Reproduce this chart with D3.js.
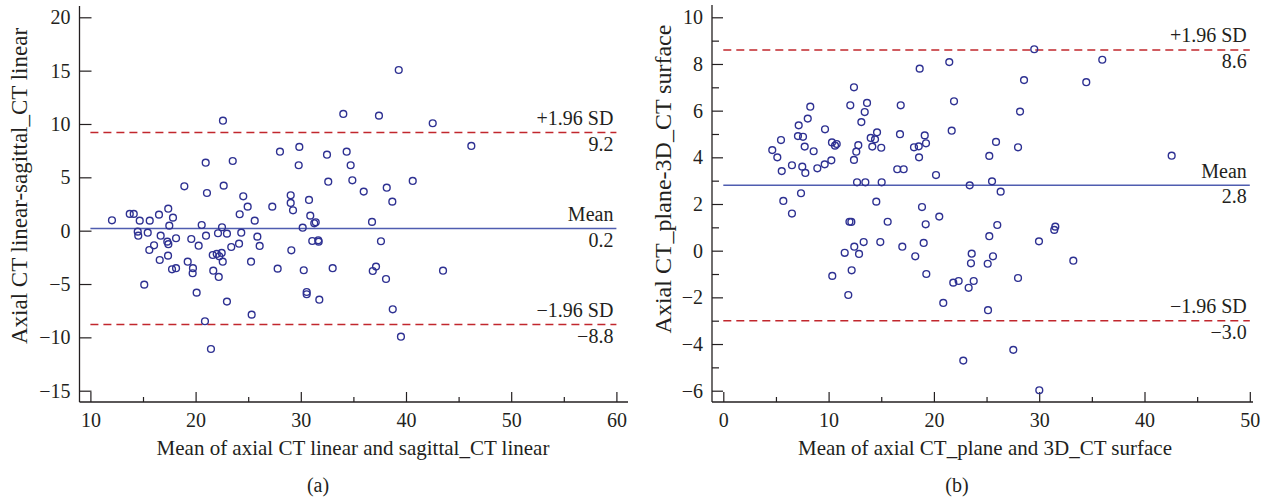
<!DOCTYPE html>
<html>
<head>
<meta charset="utf-8">
<script src="https://cdn.jsdelivr.net/npm/d3@7"></script>
<style>
  html, body { margin: 0; padding: 0; background: #fff; }
  svg { display: block; }
  text { font-family: "Liberation Serif", "Times New Roman", serif; fill: #231f20; }
</style>
</head>
<body>
<svg id="chart" width="1266" height="500"></svg>
<script>
// ---------- Panel (a) data ----------
const aX = [18.93,22.67,21.08,24.53,29.04,29.04,30.78,29.26,27.29,24.95,
  17.40,13.74,14.12,16.52,17.85,12.05,14.69,15.64,17.50,20.58,
  24.19,25.62,30.90,31.28,31.42,30.18,22.51,14.50,14.55,15.45,
  16.68,17.31,17.41,18.14,19.59,20.29,20.99,22.13,22.98,24.34,
  25.87,26.09,24.13,23.39,31.09,31.66,31.70,29.10,16.05,15.60,
  17.38,16.59,19.25,19.75,19.72,17.76,18.14,21.63,22.01,22.25,
  22.48,22.58,21.68,22.20,25.27,27.80,30.28,33.03,15.12,20.10,
  22.98,30.56,30.56,31.76,25.33,20.89,21.46,32.61,34.90,22.60,
  34.04,28.02,29.86,29.80,32.49,34.36,34.74,20.96,23.53,39.31,
  37.43,42.54,46.21,35.98,38.17,40.64,38.70,36.77,37.62,36.84,
  37.15,38.10,43.52,38.74,39.52];
const aY = [4.16,4.22,3.53,3.22,3.32,2.60,2.88,1.91,2.25,2.25,
  2.06,1.57,1.57,1.50,1.22,0.97,0.94,0.94,0.47,0.53,
  1.54,0.94,1.41,0.69,0.79,0.28,0.32,-0.09,-0.47,-0.19,
  -0.47,-1.03,-1.27,-0.71,-0.78,-1.41,-0.47,-0.24,-0.28,-0.19,
  -0.56,-1.43,-1.22,-1.53,-0.97,-0.90,-1.03,-1.84,-1.37,-1.81,
  -2.34,-2.75,-2.91,-3.52,-3.99,-3.62,-3.52,-2.28,-2.18,-2.40,
  -2.09,-2.91,-3.75,-4.34,-2.91,-3.56,-3.71,-3.52,-5.06,-5.81,
  -6.65,-5.75,-5.96,-6.47,-7.87,-8.49,-11.09,4.59,4.72,10.31,
  10.94,7.40,7.85,6.13,7.12,7.40,6.13,6.37,6.53,15.06,
  10.78,10.07,7.94,3.66,4.03,4.66,2.72,0.82,-0.99,-3.78,
  -3.37,-4.53,-3.75,-7.37,-9.94];
const aLimits = [9.2, 0.2, -8.8];
const aLimitText = ["9.2", "0.2", "\u22128.8"];
const aXTicks = [10, 20, 30, 40, 50, 60];
const aXMinor = [15, 25, 35, 45, 55];
const aYTicks = [-15, -10, -5, 0, 5, 10, 15, 20];
const aYMinor = [];
const aXTitle = "Mean of axial CT linear and sagittal_CT linear";
const aYTitle = "Axial CT linear-sagittal_CT linear";

// ---------- Panel (b) data ----------
const bX = [18.65,21.46,12.41,8.26,12.06,13.65,13.43,16.85,21.91,8.02,
  7.16,13.11,9.66,5.48,7.09,7.57,14.60,14.00,14.41,16.78,
  21.69,19.13,10.32,10.61,10.77,12.82,4.65,7.73,8.58,12.63,
  14.15,15.00,18.11,18.56,19.25,5.13,12.41,18.59,6.52,7.50,
  5.55,7.79,8.93,9.63,10.26,16.52,17.13,20.20,12.70,13.49,
  15.04,7.38,5.70,14.53,6.52,18.87,20.51,11.98,12.16,15.61,
  19.22,13.33,14.91,12.44,11.53,12.89,17.00,19.03,18.23,12.19,
  10.35,19.28,21.84,22.35,11.87,20.89,29.53,35.99,28.56,34.47,
  28.18,25.90,27.99,25.26,42.58,23.40,25.52,26.34,26.02,25.26,
  29.98,31.53,31.43,23.59,23.52,25.61,25.11,33.24,23.78,23.30,
  27.99,25.14,27.54,22.79,30.01];
const bY = [7.80,8.08,7.00,6.17,6.23,6.33,5.94,6.23,6.40,5.66,
  5.37,5.51,5.20,4.74,4.91,4.88,5.07,4.83,4.77,4.99,
  5.14,4.94,4.64,4.50,4.57,4.52,4.31,4.46,4.26,4.24,
  4.46,4.41,4.43,4.47,4.60,4.00,3.89,4.00,3.66,3.60,
  3.41,3.33,3.53,3.70,3.87,3.49,3.49,3.24,2.93,2.93,
  2.93,2.46,2.13,2.10,1.59,1.87,1.46,1.24,1.23,1.24,
  1.13,0.37,0.37,0.17,-0.09,-0.14,0.17,0.33,-0.24,-0.84,
  -1.08,-1.00,-1.37,-1.30,-1.90,-2.24,8.63,8.18,7.31,7.22,
  5.96,4.66,4.43,4.06,4.07,2.80,2.97,2.53,1.10,0.62,
  0.40,1.03,0.89,-0.13,-0.54,-0.24,-0.56,-0.43,-1.30,-1.59,
  -1.17,-2.55,-4.25,-4.71,-5.98];
const bLimits = [8.6, 2.8, -3.0];
const bLimitText = ["8.6", "2.8", "\u22123.0"];
const bXTicks = [0, 10, 20, 30, 40, 50];
const bXMinor = [5, 15, 25, 35, 45];
const bYTicks = [-6, -4, -2, 0, 2, 4, 6, 8, 10];
const bYMinor = [-5, -3, -1, 1, 3, 5, 7, 9];
const bXTitle = "Mean of axial CT_plane and 3D_CT surface";
const bYTitle = "Axial CT_plane-3D_CT surface";

const limitNames = ["+1.96 SD", "Mean", "\u22121.96 SD"];

const svg = d3.select("#chart");
svg.append("rect").attr("width", 1266).attr("height", 500).attr("fill", "#fff");

const INK = "#231f20";
const PT = "#2e3192";
const MEANC = "#4f5db0";
const SDC = "#c1272d";

function panel(o) {
  const g = svg.append("g");
  const x = d3.scaleLinear().domain(o.xDom).range(o.xRange);
  const y = d3.scaleLinear().domain(o.yDom).range(o.yRange);
  const xFmt = d3.format("d");
  const yFmt = o.yFmt;

  // axis lines
  g.append("line").attr("x1", o.axisX).attr("x2", o.axisX)
    .attr("y1", o.axisTop).attr("y2", o.axisY)
    .attr("stroke", INK).attr("stroke-width", 1.3);
  g.append("line").attr("x1", o.axisX).attr("x2", o.axisRight)
    .attr("y1", o.axisY).attr("y2", o.axisY)
    .attr("stroke", INK).attr("stroke-width", 1.3);

  // x axis major
  const gx = g.append("g").attr("transform", `translate(0,${o.axisY})`)
    .call(d3.axisBottom(x).tickValues(o.xTicks).tickSize(-10).tickPadding(10.5).tickFormat(xFmt));
  gx.select(".domain").remove();
  gx.selectAll("line").attr("stroke", INK).attr("stroke-width", 1.2);
  gx.selectAll("text").attr("font-size", 20).attr("font-family", "Liberation Serif").attr("fill", INK);
  // x minor
  const gxm = g.append("g").attr("transform", `translate(0,${o.axisY})`)
    .call(d3.axisBottom(x).tickValues(o.xMinor).tickSize(-5).tickFormat(""));
  gxm.select(".domain").remove();
  gxm.selectAll("line").attr("stroke", INK).attr("stroke-width", 1.2);

  // y axis major
  const gy = g.append("g").attr("transform", `translate(${o.axisX},0)`)
    .call(d3.axisLeft(y).tickValues(o.yTicks).tickSize(-o.yTickLen).tickPadding(9).tickFormat(yFmt));
  gy.select(".domain").remove();
  gy.selectAll("line").attr("stroke", INK).attr("stroke-width", 1.2);
  gy.selectAll("text").attr("font-size", 20).attr("font-family", "Liberation Serif").attr("fill", INK);
  if (o.yMinor.length) {
    const gym = g.append("g").attr("transform", `translate(${o.axisX},0)`)
      .call(d3.axisLeft(y).tickValues(o.yMinor).tickSize(-7).tickFormat(""));
    gym.select(".domain").remove();
    gym.selectAll("line").attr("stroke", INK).attr("stroke-width", 1.2);
  }

  // reference lines
  const x0 = x(o.xDom[0]), x1 = x(o.xDom[1]);
  o.limits.forEach((v, i) => {
    g.append("line").attr("x1", x0).attr("x2", x1)
      .attr("y1", y(v)).attr("y2", y(v))
      .attr("stroke", i === 1 ? MEANC : SDC)
      .attr("stroke-width", 1.5)
      .attr("stroke-dasharray", i === 1 ? null : "8,5");
    g.append("text").attr("x", x1 - 3).attr("y", y(v) - 7.5)
      .attr("text-anchor", "end").attr("font-size", 20).text(limitNames[i]);
    g.append("text").attr("x", x1 - 3).attr("y", y(v) + 18)
      .attr("text-anchor", "end").attr("font-size", 20).text(o.limitText[i]);
  });

  // points
  g.append("g").selectAll("circle").data(o.xs.map((d, i) => [d, o.ys[i]]))
    .join("circle")
    .attr("cx", d => x(d[0])).attr("cy", d => y(d[1]))
    .attr("r", 3.4).attr("fill", "none")
    .attr("stroke", PT).attr("stroke-width", 1.4);

  // titles
  g.append("text").attr("x", o.xTitleX).attr("y", 455)
    .attr("text-anchor", "middle").attr("font-size", 21).text(o.xTitle);
  g.append("text")
    .attr("transform", `translate(${o.yTitleX},${o.yTitleY}) rotate(-90)`)
    .attr("text-anchor", "middle").attr("font-size", o.yTitleSize).text(o.yTitle);
  g.append("text").attr("x", o.panelX).attr("y", 492)
    .attr("text-anchor", "middle").attr("font-size", 20).text(o.panelLabel);
}

panel({
  xs: aX, ys: aY, limits: aLimits, limitText: aLimitText,
  xDom: [10, 60], xRange: [90.4, 616.4],
  yDom: [-15, 20], yRange: [390.7, 17.3],
  axisX: 79.5, axisY: 402, axisTop: 6, axisRight: 628, yTickLen: 12,
  xTicks: aXTicks, xMinor: aXMinor, yTicks: aYTicks, yMinor: aYMinor,
  yFmt: d3.format("d"),
  xTitle: aXTitle, xTitleX: 353, yTitle: aYTitle, yTitleX: 27, yTitleY: 186, yTitleSize: 23,
  panelLabel: "(a)", panelX: 318
});

panel({
  xs: bX, ys: bY, limits: bLimits, limitText: bLimitText,
  xDom: [0, 50], xRange: [723.3, 1249.8],
  yDom: [-6, 10], yRange: [390.7, 17.3],
  axisX: 712, axisY: 402, axisTop: 5, axisRight: 1253, yTickLen: 11,
  xTicks: bXTicks, xMinor: bXMinor, yTicks: bYTicks, yMinor: bYMinor,
  yFmt: d3.format("d"),
  xTitle: bXTitle, xTitleX: 985, yTitle: bYTitle, yTitleX: 671, yTitleY: 179, yTitleSize: 24,
  panelLabel: "(b)", panelX: 957
});
</script>
</body>
</html>
